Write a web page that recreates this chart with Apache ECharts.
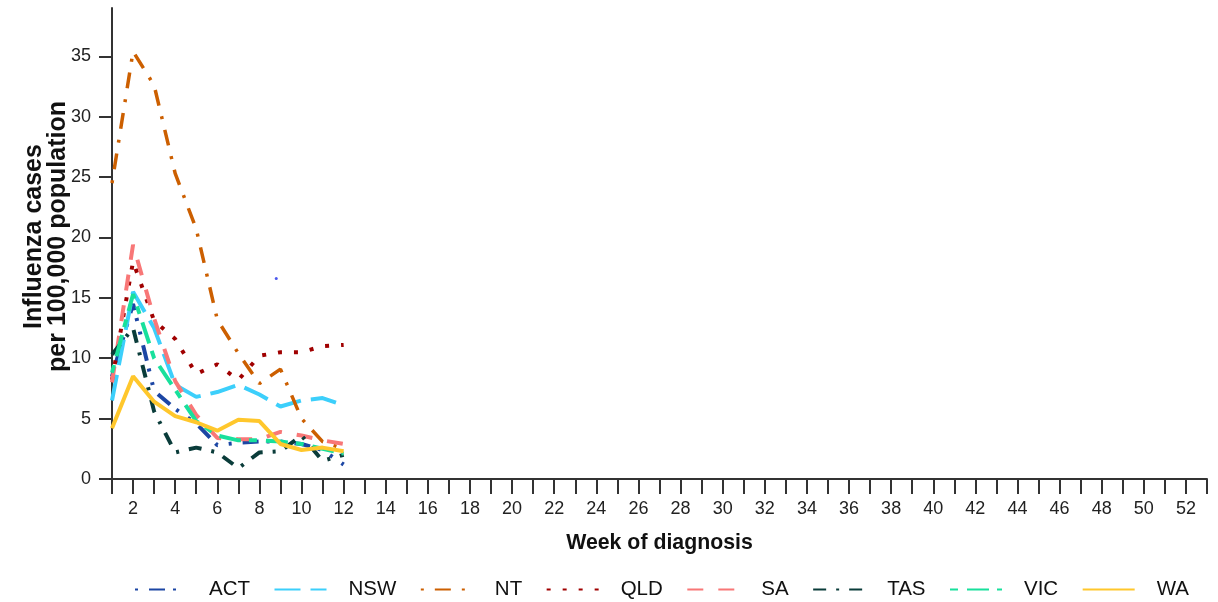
<!DOCTYPE html>
<html><head><meta charset="utf-8">
<script src="https://cdn.jsdelivr.net/npm/echarts@6/dist/echarts.min.js"></script>
<style>html,body{margin:0;padding:0;background:#fff}#c{width:1218px;height:602px}</style>
</head><body><div id="c"></div>
<script>
// ---- data ----
const weeks = [1,2,3,4,5,6,7,8,9,10,11,12];
const seriesNames = ['ACT','NSW','NT','QLD','SA','TAS','VIC','WA'];
const ACT = [8.5, 14.5, 7.3, 5.8, 4.6, 2.8, 3.0, 3.1, 3.1, 2.9, 2.4, 1.2];
const NSW = [6.5, 15.5, 12.5, 7.8, 6.8, 7.2, 7.8, 7.0, 6.0, 6.5, 6.7, 6.1];
const NT  = [24.5, 35.4, 32.6, 25.3, 20.7, 13.2, 10.4, 7.9, 9.1, 5.0, 3.1, 2.5];
const QLD = [8.2, 18.0, 13.1, 11.6, 8.7, 9.5, 8.2, 10.2, 10.5, 10.5, 11.0, 11.1];
const SA  = [8.0, 19.4, 13.3, 8.1, 5.3, 3.4, 3.3, 3.3, 3.9, 3.6, 3.2, 2.9];
const TAS = [10.3, 12.5, 5.6, 2.2, 2.6, 2.2, 0.9, 2.2, 2.3, 3.6, 1.5, 2.0];
const VIC = [8.8, 15.3, 10.0, 7.4, 4.8, 3.6, 3.2, 3.2, 3.1, 2.9, 2.5, 2.1];
const WA  = [4.2, 8.5, 6.4, 5.2, 4.7, 4.0, 4.9, 4.8, 2.9, 2.4, 2.6, 2.3];
const strayPoint = [[8.8, 16.6]];
const xTickLabels = [2,4,6,8,10,12,14,16,18,20,22,24,26,28,30,32,34,36,38,40,42,44,46,48,50,52];
const yTickLabels = [0,5,10,15,20,25,30,35];
const xMin = 1, xMax = 53, yMin = 0, yMax = 39;

// ---- styles ----
const FONT = "'Liberation Sans',Arial,sans-serif";
const styles = {
  ACT: {color:'#1c46a4', width:4, type:[16,8,3,11,3,11], offset:38},
  NSW: {color:'#3ccffb', width:4, type:[26,10], offset:0},
  NT:  {color:'#cc5f00', width:3.5, type:[16,11,3,11], offset:27},
  QLD: {color:'#a00000', width:4, type:[4,12], offset:0},
  SA:  {color:'#f87777', width:4, type:[16,15], offset:0},
  TAS: {color:'#0a3c3a', width:4, type:[13,10,3,10], offset:0},
  VIC: {color:'#18e09c', width:4, type:[22,8,8,9], offset:30},
  WA:  {color:'#ffc72c', width:4, type:'solid', offset:0}
};
const values = {ACT, NSW, NT, QLD, SA, TAS, VIC, WA};

const xTickValues = [];
for (let w = xMin; w <= xMax; w++) xTickValues.push(w);

const series = seriesNames.map(n => ({
  name: n, type: 'line', symbol: 'none', smooth: false,
  data: weeks.map((w, i) => [w, values[n][i]]),
  lineStyle: {color: styles[n].color, width: styles[n].width, type: styles[n].type, dashOffset: styles[n].offset, cap: 'butt'},
  itemStyle: {color: styles[n].color, opacity: 0},
  emphasis: {disabled: true}
}));
series.push({
  name: 'stray', type: 'scatter', data: strayPoint, symbolSize: 3,
  itemStyle: {color: '#2030e8'}, silent: true
});

const chart = echarts.init(document.getElementById('c'), null, {renderer: 'canvas'});
chart.setOption({
  animation: false,
  backgroundColor: '#fff',
  textStyle: {fontFamily: FONT},
  grid: {left: 112, right: 11, top: 8, bottom: 123, containLabel: false},
  legend: {
    data: seriesNames, left: 129, top: 574, itemWidth: 52, itemHeight: 16, itemGap: 23.5,
    itemStyle: {opacity: 0},
    textStyle: {fontFamily: FONT, fontSize: 20.5, color: '#111', padding: [0,0,0,17]}
  },
  xAxis: {
    type: 'value', min: xMin, max: xMax,
    axisLine: {show: true, onZero: false, lineStyle: {color: '#333', width: 2}},
    axisTick: {show: true, customValues: xTickValues, length: 15, lineStyle: {color: '#333', width: 2}},
    axisLabel: {customValues: xTickLabels, margin: 21, fontSize: 18, color: '#222', fontFamily: FONT},
    splitLine: {show: false},
    name: 'Week of diagnosis', nameLocation: 'middle', nameGap: 54, nameMoveOverlap: false,
    nameTextStyle: {fontWeight: 'bold', fontSize: 21.3, color: '#111', fontFamily: FONT}
  },
  yAxis: {
    type: 'value', min: yMin, max: yMax,
    axisLine: {show: true, onZero: false, lineStyle: {color: '#333', width: 2}},
    axisTick: {show: true, customValues: yTickLabels, length: 13, lineStyle: {color: '#333', width: 2}},
    axisLabel: {customValues: yTickLabels, margin: 21, fontSize: 18, color: '#222', fontFamily: FONT},
    splitLine: {show: false},
    name: 'Influenza cases\nper 100,000 population', nameLocation: 'middle', nameGap: 42, nameRotate: 90,
    nameMoveOverlap: false,
    nameTextStyle: {fontWeight: 'bold', fontSize: 25, lineHeight: 24, color: '#111', fontFamily: FONT, align: 'center', padding: [0,0,0,14]}
  },
  series: series
});
</script></body></html>
